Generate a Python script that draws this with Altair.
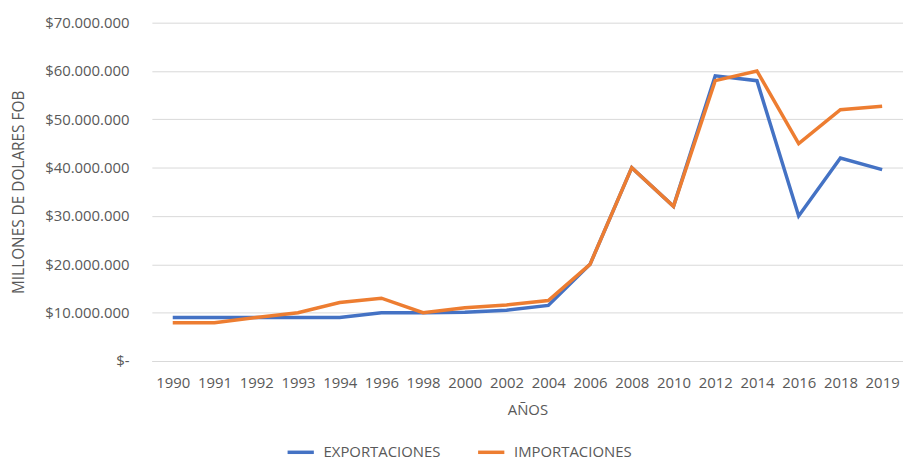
import altair as alt
import pandas as pd

years = ["1990", "1991", "1992", "1993", "1994", "1996", "1998", "2000", "2002",
         "2004", "2006", "2008", "2010", "2012", "2014", "2016", "2018", "2019"]
exportaciones = [9.0, 9.0, 9.0, 9.0, 9.0, 10.0, 10.0, 10.1, 10.5,
                 11.5, 20.0, 40.0, 32.0, 59.0, 58.0, 30.0, 42.0, 39.6]
importaciones = [7.9, 7.9, 9.0, 10.0, 12.1, 13.0, 10.0, 11.0, 11.6,
                 12.5, 20.0, 40.0, 32.0, 58.0, 60.0, 45.0, 52.0, 52.7]
series = ["EXPORTACIONES", "IMPORTACIONES"]
colors = ["#4472C4", "#ED7D31"]

rows = []
for name, vals in zip(series, [exportaciones, importaciones]):
    for y, v in zip(years, vals):
        rows.append({"year": y, "value": v * 1_000_000, "serie": name})
df = pd.DataFrame(rows)

FONT = "Open Sans"
GRAY = "#595959"

chart = alt.Chart(df).mark_line(strokeWidth=3.5).encode(
    x=alt.X("year:O", sort=years,
            axis=alt.Axis(title="AÑOS", labelAngle=0, ticks=False, domain=True,
                          domainColor="#d9d9d9", labelPadding=15,
                          labelFontSize=15, labelColor=GRAY, labelFont=FONT,
                          titleFontSize=15, titleColor=GRAY, titleFont=FONT,
                          titleFontWeight="normal", titlePadding=12)),
    y=alt.Y("value:Q",
            scale=alt.Scale(domain=[0, 70_000_000], nice=False),
            axis=alt.Axis(title="MILLONES DE DOLARES FOB", values=list(range(0, 70_000_001, 10_000_000)),
                          labelExpr="datum.value == 0 ? '$-' : '$' + replace(format(datum.value, ',.0f'), regexp(',', 'g'), '.')",
                          ticks=False, domain=False, gridColor="#d9d9d9",
                          labelPadding=23, labelFontSize=15, labelColor=GRAY, labelFont=FONT,
                          titleFontSize=15.5, titleColor=GRAY, titleFont=FONT,
                          titleFontWeight="normal", titlePadding=18)),
    color=alt.Color("serie:N",
                    scale=alt.Scale(domain=series, range=colors),
                    legend=alt.Legend(title=None, orient="none", direction="horizontal",
                                      legendX=135, legendY=418,
                                      symbolType="stroke", symbolSize=700, symbolStrokeWidth=3.5,
                                      labelFontSize=15, labelColor=GRAY, labelFont=FONT,
                                      columnPadding=30, labelOffset=8)),
).properties(
    width=757, height=341,
    autosize=alt.AutoSizeParams(type="none"),
    padding={"left": 145, "top": 13, "right": 0, "bottom": 100},
).configure_view(stroke=None)

chart.save("out.html", embed_options={"renderer": "svg", "actions": False})
